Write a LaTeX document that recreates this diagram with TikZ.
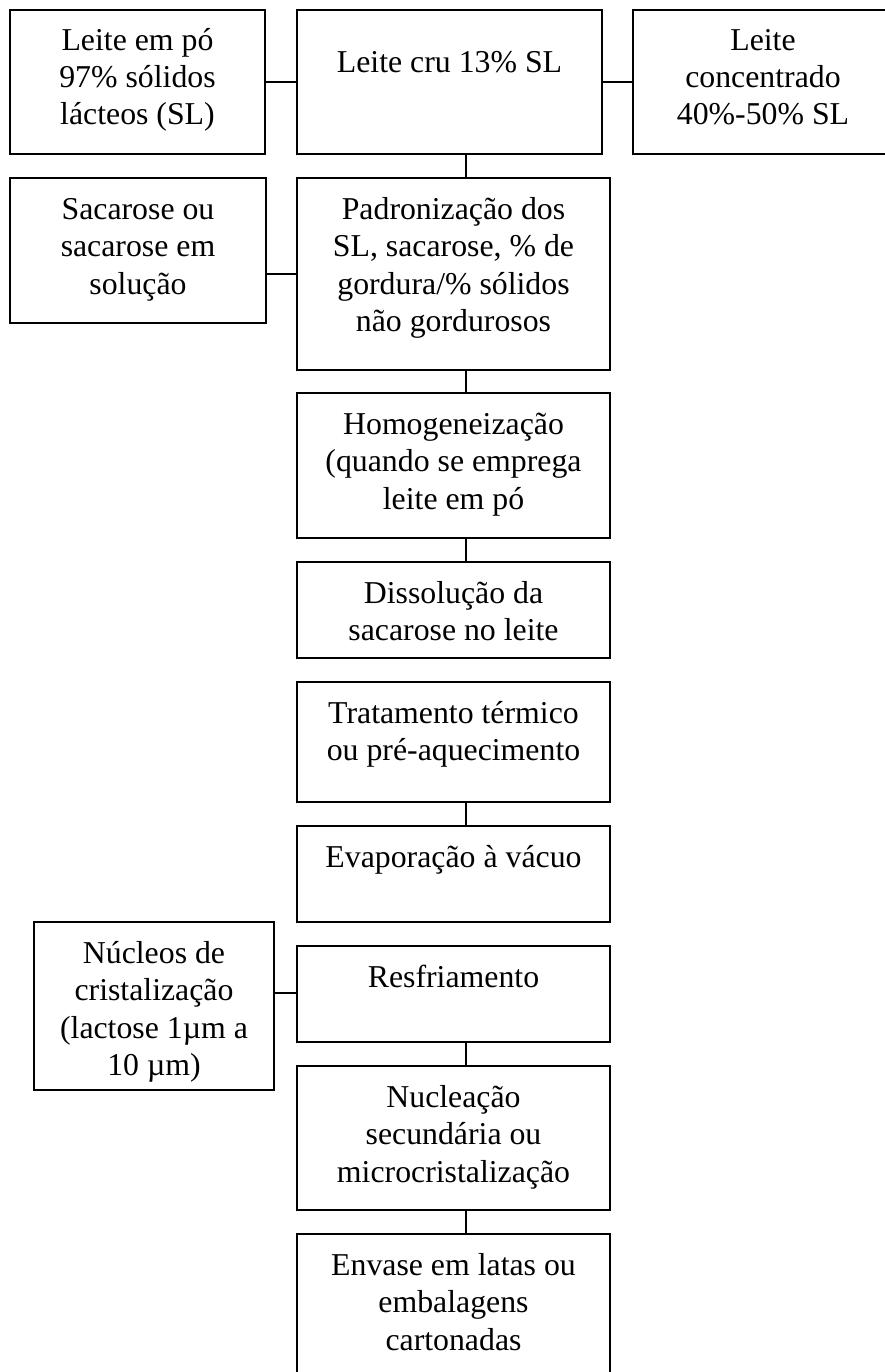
\documentclass[tikz,border=0pt]{standalone}
\usepackage{fontspec}
\setmainfont{Liberation Serif}
\newcommand{\lnup}{\rule{0pt}{29pt}}
\begin{document}
\begin{tikzpicture}[x=1pt,y=-1pt,
  box/.style={draw=black, line width=2.2pt, rectangle, inner sep=0pt, outer sep=0pt, anchor=north west},
  txt/.style={align=center, inner sep=0pt, anchor=north, font=\fontsize{31.8}{37.4}\selectfont},
  link/.style={draw=black, line width=1.9pt}]
\useasboundingbox (0,0) rectangle (885,1372);
\clip (0,0) rectangle (885,1372);
% boxes
\node[box, minimum width=255, minimum height=144] (A) at (10,10) {};
\node[box, minimum width=305, minimum height=144] (B) at (297,10) {};
\node[box, minimum width=260, minimum height=144] (C) at (633,10) {};
\node[box, minimum width=256, minimum height=145] (D) at (10,178) {};
\node[box, minimum width=313, minimum height=192] (E) at (297,178) {};
\node[box, minimum width=313, minimum height=145] (F) at (297,393) {};
\node[box, minimum width=313, minimum height=96] (G) at (297,562) {};
\node[box, minimum width=313, minimum height=120] (H) at (297,682) {};
\node[box, minimum width=313, minimum height=96] (I) at (297,826) {};
\node[box, minimum width=240, minimum height=168] (J) at (34,922) {};
\node[box, minimum width=313, minimum height=96] (K) at (297,946) {};
\node[box, minimum width=313, minimum height=144] (L) at (297,1066) {};
\node[box, minimum width=313, minimum height=160] (M) at (297,1234) {};
% texts
\node[txt] (At) at ([yshift=-11pt]A.north) {\lnup Leite em pó\\97\% sólidos\\lácteos (SL)};
\node[txt] (Bt) at ([yshift=-33pt]B.north) {\lnup Leite cru 13\% SL};
\node[txt] (Ct) at ([yshift=-11pt]C.north) {\lnup Leite\\concentrado\\40\%-50\% SL};
\node[txt] (Dt) at ([yshift=-12pt]D.north) {\lnup Sacarose ou\\sacarose em\\solução};
\node[txt] (Et) at ([yshift=-12pt]E.north) {\lnup Padronização dos\\SL, sacarose, \% de\\gordura/\% sólidos\\não gordurosos};
\node[txt] (Ft) at ([yshift=-12pt]F.north) {\lnup Homogeneização\\(quando se emprega\\leite em pó};
\node[txt] (Gt) at ([yshift=-12pt]G.north) {\lnup Dissolução da\\sacarose no leite};
\node[txt] (Ht) at ([yshift=-12pt]H.north) {\lnup Tratamento térmico\\ou pré-aquecimento};
\node[txt] (It) at ([yshift=-12pt]I.north) {\lnup Evaporação à vácuo};
\node[txt] (Jt) at ([yshift=-12pt]J.north) {\lnup Núcleos de\\cristalização\\(lactose 1µm a\\10 µm)};
\node[txt] (Kt) at ([yshift=-12pt]K.north) {\lnup Resfriamento};
\node[txt] (Lt) at ([yshift=-12pt]L.north) {\lnup Nucleação\\secundária ou\\microcristalização};
\node[txt] (Mt) at ([yshift=-12pt]M.north) {\lnup Envase em latas ou\\embalagens\\cartonadas};
% connectors
\draw[link] (A.east |- 0,82) -- (B.west |- 0,82);
\draw[link] (B.east |- 0,82) -- (C.west |- 0,82);
\draw[link] (D.east |- 0,274) -- (E.west |- 0,274);
\draw[link] (J.east |- 0,993) -- (K.west |- 0,993);
\draw[link] (B.south -| 466,0) -- (E.north -| 466,0);
\draw[link] (E.south -| 466,0) -- (F.north -| 466,0);
\draw[link] (F.south -| 466,0) -- (G.north -| 466,0);
\draw[link] (H.south -| 466,0) -- (I.north -| 466,0);
\draw[link] (K.south -| 466,0) -- (L.north -| 466,0);
\draw[link] (L.south -| 466,0) -- (M.north -| 466,0);
\end{tikzpicture}
\end{document}
